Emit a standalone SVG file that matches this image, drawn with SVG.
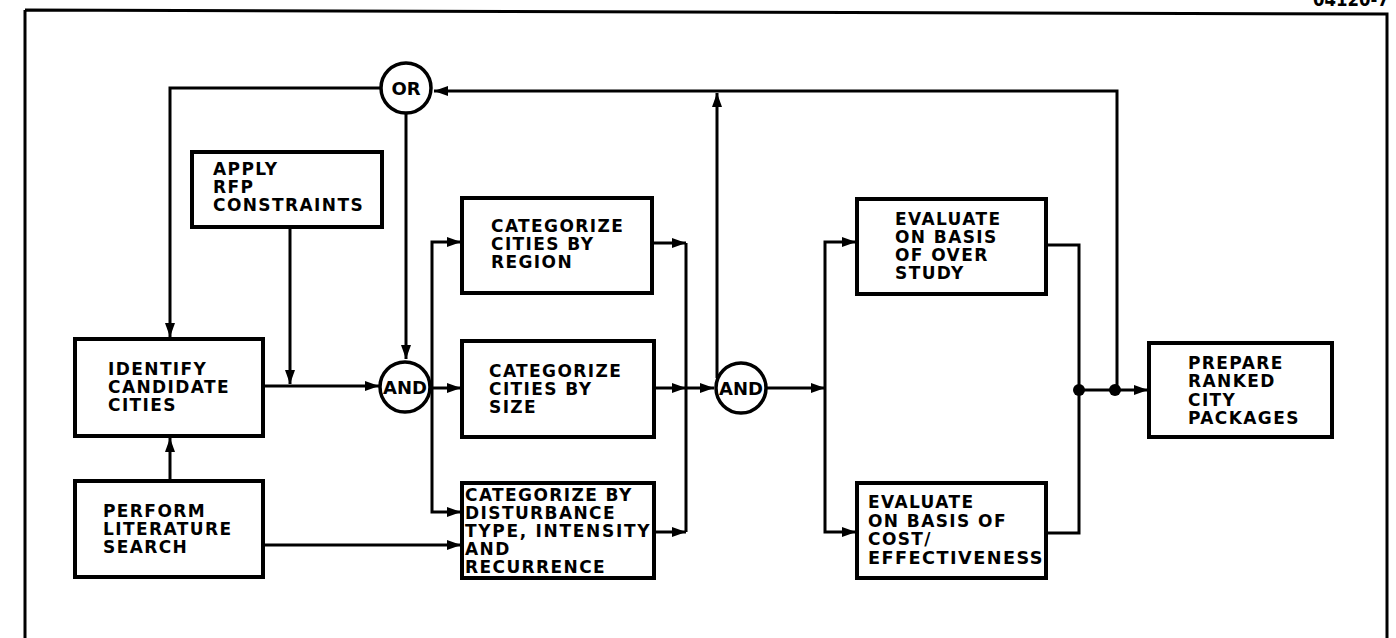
<svg xmlns="http://www.w3.org/2000/svg" width="1396" height="638" viewBox="0 0 1396 638">
<style>
.box{fill:#fff;stroke:#000;stroke-width:4}
.gate{fill:#fff;stroke:#000;stroke-width:3.5}
.ln{fill:none;stroke:#000;stroke-width:3}
.t{font-family:"DejaVu Sans",sans-serif;font-weight:bold;font-size:17px;letter-spacing:1.4px;fill:#000}
.g{font-family:"DejaVu Sans",sans-serif;font-weight:bold;font-size:18px;fill:#000;text-anchor:middle}
</style>
<defs>
<marker id="ah" markerUnits="userSpaceOnUse" markerWidth="16" markerHeight="12" refX="14" refY="6" orient="auto">
<path d="M0,1 L14,6 L0,11 Z" fill="#000"/>
</marker>
</defs>
<rect width="1396" height="638" fill="#fff"/>
<path d="M25,10 L1387,14 L1387,645 M25,10 L25,645" fill="none" stroke="#000" stroke-width="3"/>
<text x="1313" y="6" font-family="DejaVu Sans, sans-serif" font-weight="bold" font-size="20" textLength="76" lengthAdjust="spacingAndGlyphs">04120-7</text>

<g id="connectors">
<path class="ln" d="M380,88 H170 V337" marker-end="url(#ah)"/>
<path class="ln" d="M1117,390 V91 H434" marker-end="url(#ah)"/>
<path class="ln" d="M717,378 V93" marker-end="url(#ah)"/>
<path class="ln" d="M406,114 V359" marker-end="url(#ah)"/>
<path class="ln" d="M290,228 V384" marker-end="url(#ah)"/>
<path class="ln" d="M263,386 H379" marker-end="url(#ah)"/>
<path class="ln" d="M170,481 V438" marker-end="url(#ah)"/>
<path class="ln" d="M263,545 H461" marker-end="url(#ah)"/>
<path class="ln" d="M431,388 H461" marker-end="url(#ah)"/>
<path class="ln" d="M432,388 V242 H461" marker-end="url(#ah)"/>
<path class="ln" d="M432,388 V512 H461" marker-end="url(#ah)"/>
<path class="ln" d="M686,243 V532"/>
<path class="ln" d="M652,243 H686" marker-end="url(#ah)"/>
<path class="ln" d="M654,388 H686" marker-end="url(#ah)"/>
<path class="ln" d="M654,532 H686" marker-end="url(#ah)"/>
<path class="ln" d="M686,388 H714" marker-end="url(#ah)"/>
<path class="ln" d="M767,388 H825" marker-end="url(#ah)"/>
<path class="ln" d="M825,388 V242 H856" marker-end="url(#ah)"/>
<path class="ln" d="M825,388 V532 H856" marker-end="url(#ah)"/>
<path class="ln" d="M1046,245 H1079 V533 H1046"/>
<path class="ln" d="M1079,390 H1148" marker-end="url(#ah)"/>
<circle cx="1079" cy="390" r="6" fill="#000"/>
<circle cx="1115" cy="390" r="6" fill="#000"/>
</g>

<g id="or">
<circle class="gate" cx="406" cy="88" r="25"/>
<text class="g" x="406" y="95">OR</text>
</g>
<g id="and1">
<circle class="gate" cx="405" cy="387" r="25"/>
<text class="g" x="405" y="394">AND</text>
</g>
<g id="and2">
<circle class="gate" cx="741" cy="388" r="25"/>
<text class="g" x="741" y="395">AND</text>
</g>

<g id="apply">
<rect class="box" x="192" y="152" width="190" height="75"/>
<text class="t" x="213" y="175">APPLY</text>
<text class="t" x="213" y="193">RFP</text>
<text class="t" x="213" y="211">CONSTRAINTS</text>
</g>
<g id="identify">
<rect class="box" x="75" y="339" width="188" height="97"/>
<text class="t" x="108" y="375">IDENTIFY</text>
<text class="t" x="108" y="393">CANDIDATE</text>
<text class="t" x="108" y="411">CITIES</text>
</g>
<g id="literature">
<rect class="box" x="75" y="481" width="188" height="96"/>
<text class="t" x="103" y="517">PERFORM</text>
<text class="t" x="103" y="535">LITERATURE</text>
<text class="t" x="103" y="553">SEARCH</text>
</g>
<g id="region">
<rect class="box" x="462" y="198" width="190" height="95"/>
<text class="t" x="491" y="232">CATEGORIZE</text>
<text class="t" x="491" y="250">CITIES BY</text>
<text class="t" x="491" y="268">REGION</text>
</g>
<g id="size">
<rect class="box" x="462" y="341" width="192" height="96"/>
<text class="t" x="489" y="377">CATEGORIZE</text>
<text class="t" x="489" y="395">CITIES BY</text>
<text class="t" x="489" y="413">SIZE</text>
</g>
<g id="disturbance">
<rect class="box" x="462" y="483" width="192" height="95"/>
<text class="t" x="465" y="501">CATEGORIZE BY</text>
<text class="t" x="465" y="519">DISTURBANCE</text>
<text class="t" x="465" y="537" textLength="186">TYPE, INTENSITY</text>
<text class="t" x="465" y="555">AND</text>
<text class="t" x="465" y="573">RECURRENCE</text>
</g>
<g id="eval-over">
<rect class="box" x="857" y="199" width="189" height="95"/>
<text class="t" x="895" y="225">EVALUATE</text>
<text class="t" x="895" y="243">ON BASIS</text>
<text class="t" x="895" y="261">OF OVER</text>
<text class="t" x="895" y="279">STUDY</text>
</g>
<g id="eval-cost">
<rect class="box" x="857" y="483" width="189" height="95"/>
<text class="t" x="868" y="508">EVALUATE</text>
<text class="t" x="868" y="527">ON BASIS OF</text>
<text class="t" x="868" y="545">COST/</text>
<text class="t" x="868" y="564" textLength="176" lengthAdjust="spacingAndGlyphs">EFFECTIVENESS</text>
</g>
<g id="prepare">
<rect class="box" x="1149" y="343" width="183" height="94"/>
<text class="t" x="1188" y="369">PREPARE</text>
<text class="t" x="1188" y="387">RANKED</text>
<text class="t" x="1188" y="406">CITY</text>
<text class="t" x="1188" y="424">PACKAGES</text>
</g>
</svg>
